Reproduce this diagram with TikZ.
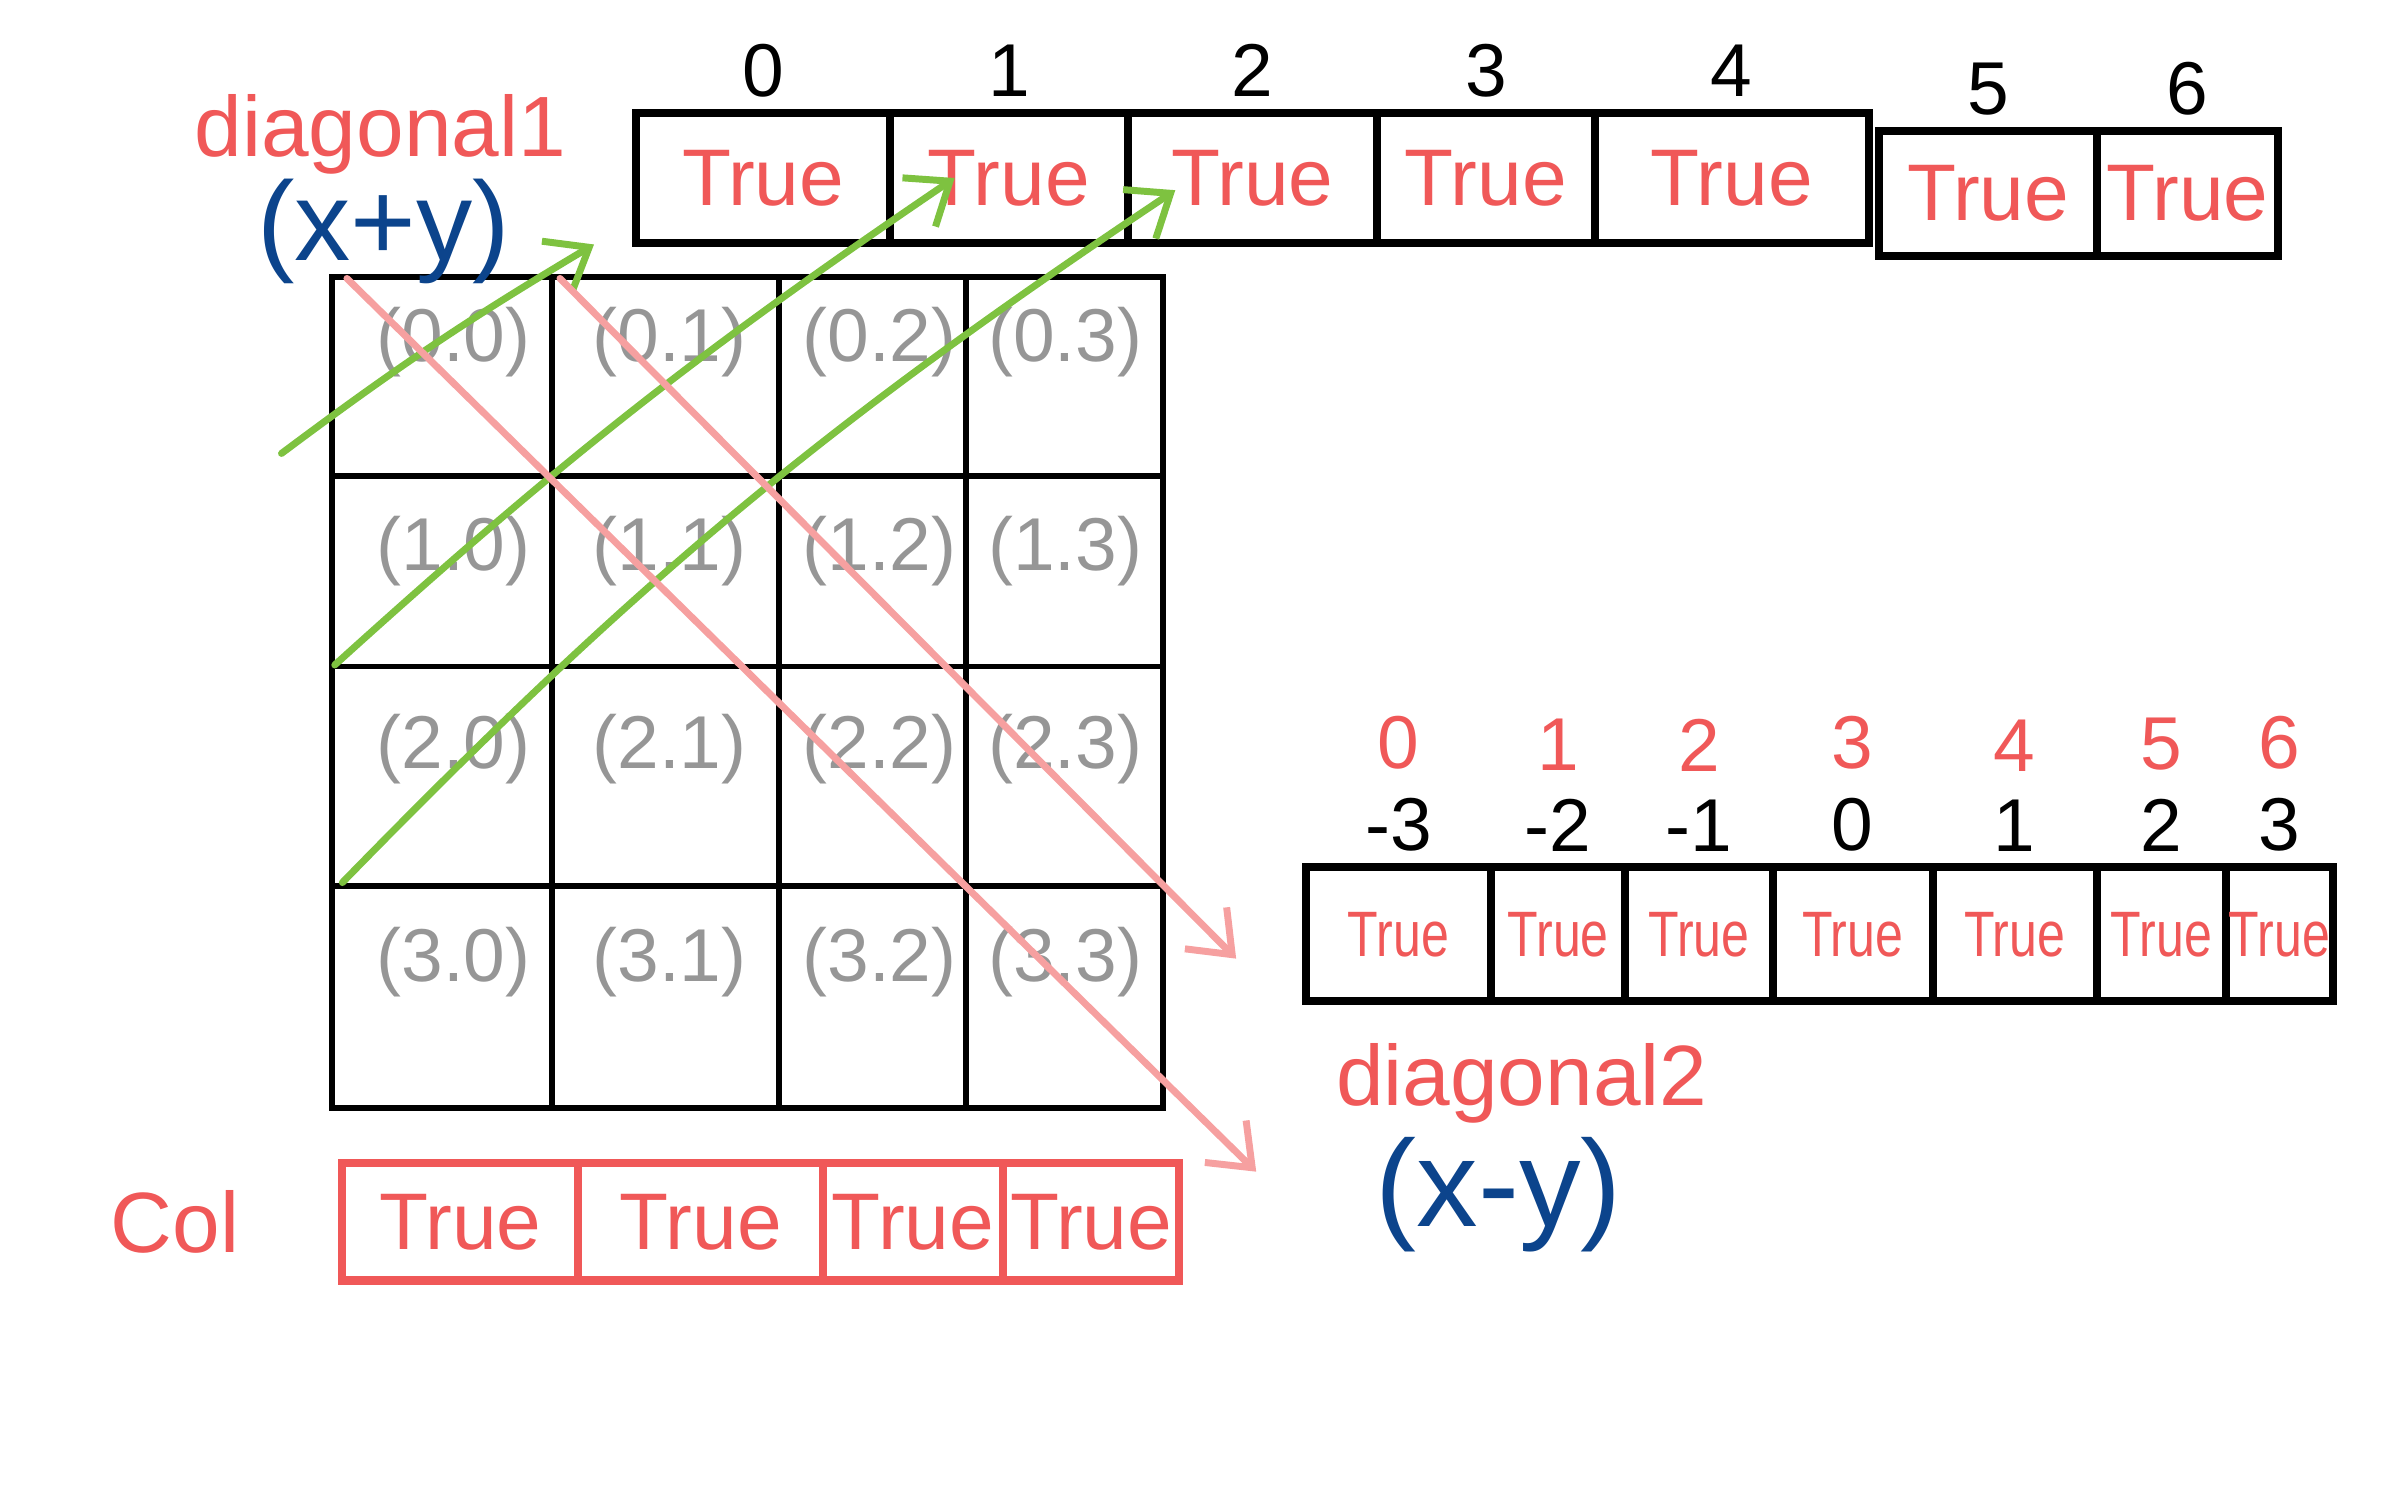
\documentclass[tikz,border=0pt]{standalone}
\usepackage{fontspec}
\setmainfont{Liberation Sans}
\usetikzlibrary{positioning, arrows.meta, calc}

\definecolor{penred}{RGB}{240,88,88}
\definecolor{penblue}{RGB}{12,68,140}
\definecolor{pengreen}{RGB}{126,194,64}
\definecolor{penpink}{RGB}{246,160,160}
\definecolor{pengray}{RGB}{150,150,150}

\begin{document}
\begin{tikzpicture}[
    x=0.01cm, y=-0.01cm,
    gcell/.style={draw, line width=1.1pt, inner sep=0pt},
    poslbl/.style={text=pengray, font=\fontsize{14}{16}\selectfont},
    arrcell/.style={draw, line width=1.5pt, inner sep=0pt, text=penred, font=\fontsize{15}{17}\selectfont},
    colcell/.style={arrcell, draw=penred},
    idx/.style={inner sep=1pt, font=\fontsize{14}{16}\selectfont},
    tag/.style={text=penred, font=\fontsize{16}{18}\selectfont},
    expr/.style={text=penblue, font=\fontsize{21}{23}\selectfont},
    gline/.style={draw=pengreen, line width=1.3pt, line cap=round, ->},
    pline/.style={draw=penpink, line width=1.3pt, line cap=round, ->},
    >={Straight Barb[length=7pt, width=11pt]}
  ]
    \useasboundingbox (0,0) rectangle (1568,980);

    % grid of positions
    \foreach \r/\ya/\yb/\yt in {0/182/313/225, 1/313/438/362, 2/438/582/492, 3/582/728/632}
      \foreach \c/\xa/\xb/\xt in {0/218/363/298, 1/363/512/440, 2/512/635/578, 3/635/764/700} {
        \node[gcell, minimum width={(\xb-\xa)*0.01cm}, minimum height={(\yb-\ya)*0.01cm}]
          (g\r\c) at ({(\xa+\xb)/2},{(\ya+\yb)/2}) {};
        \node[poslbl] (t\r\c) at (\xt,\yt) {(\r.\c)};
      }

    % diagonal1 array
    \foreach \i/\xa/\xb in {0/418/585, 1/585/741, 2/741/905, 3/905/1048, 4/1048/1228} {
      \node[arrcell, minimum width={(\xb-\xa)*0.01cm}, minimum height=0.86cm]
        (d1\i) at ({(\xa+\xb)/2},117) {True};
      \node[idx, above=1pt of d1\i] (n1\i) {\i};
    }
    \foreach \i/\xa/\xb in {5/1235/1378, 6/1378/1497} {
      \node[arrcell, minimum width={(\xb-\xa)*0.01cm}, minimum height=0.82cm]
        (d1\i) at ({(\xa+\xb)/2},127) {True};
      \node[idx, above=1pt of d1\i] (n1\i) {\i};
    }
    \node[tag] (d1name) at (250,88) {diagonal1};
    \node[expr] (d1expr) at (252,152) {(x+y)};

    % diagonal2 array
    \foreach \i/\v/\xa/\xb in {0/-3/858/980, 1/-2/980/1068, 2/-1/1068/1165, 3/0/1165/1270,
                               4/1/1270/1378, 5/2/1378/1463, 6/3/1463/1533} {
      \node[arrcell, font=\fontsize{12}{14}\selectfont, minimum width={(\xb-\xa)*0.01cm},
        minimum height=0.88cm] (d2\i) at ({(\xa+\xb)/2},614) {\scalebox{0.78}[1]{True}};
      \node[idx, above=1pt of d2\i] (m\i) {\v};
      \node[idx, text=penred, above=3pt of m\i] (k\i) {\i};
    }
    \node[tag] (d2name) at (1000,712) {diagonal2};
    \node[expr, font=\fontsize{23}{25}\selectfont] (d2expr) at (985,785) {(x-y)};

    % col array
    \foreach \i/\xa/\xb in {0/225/380, 1/380/541, 2/541/659, 3/659/775}
      \node[colcell, minimum width={(\xb-\xa)*0.01cm}, minimum height=0.77cm]
        (c\i) at ({(\xa+\xb)/2},803) {True};
    \node[tag] (colname) at (115,803) {Col};

    % anti-diagonals -> diagonal1
    \coordinate (g1s) at (185,298);
    \coordinate (g2s) at (220,437);
    \coordinate (g3s) at (225,580);
    \coordinate (g1e) at ($(d10.south west)+(-25,-2)$);
    \coordinate (g2e) at ($(d11.west)+(45,0)$);
    \coordinate (g3e) at ($(d12.west)+(34,8)$);
    \draw[gline] (g1s) to[bend left=3] (g1e);
    \draw[gline] (g2s) to[bend left=4] (g2e);
    \draw[gline] (g3s) to[bend left=6] (g3e);

    % diagonals -> diagonal2
    \coordinate (p1s) at (228,183);
    \coordinate (p2s) at (368,183);
    \coordinate (p1e) at ($(d2name.west)+(-40,58)$);
    \coordinate (p2e) at ($(d20.west)+(-43,16)$);
    \draw[pline] (p1s) -- (p1e);
    \draw[pline] (p2s) -- (p2e);
  \end{tikzpicture}
\end{document}
